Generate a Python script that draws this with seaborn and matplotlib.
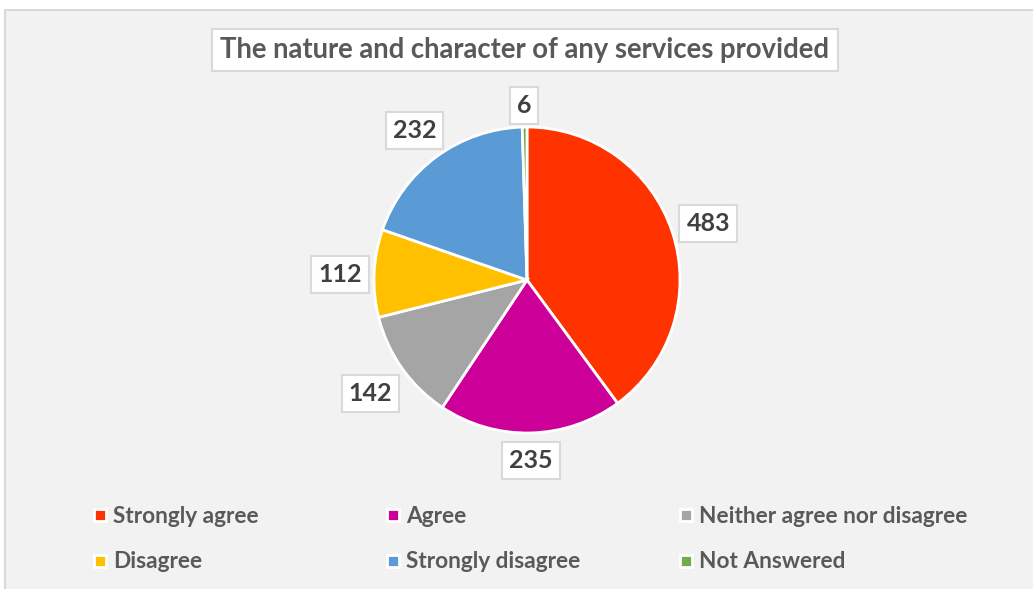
import matplotlib
matplotlib.use("Agg")
import matplotlib.pyplot as plt
from matplotlib.patches import Rectangle
from matplotlib.lines import Line2D
import numpy as np
import seaborn as sns

# Survey responses
categories = ["Strongly agree", "Agree", "Neither agree nor disagree",
              "Disagree", "Strongly disagree", "Not Answered"]
counts = [483, 235, 142, 112, 232, 6]
slice_colors = ["#FF3300", "#CC0099", "#A5A5A5", "#FFC000", "#5B9BD5", "#70AD47"]
title = "The nature and character of any services provided"

sns.set_theme(style="white")
plt.rcParams["font.family"] = ["Lato", "DejaVu Sans"]
plt.rcParams["font.weight"] = "bold"
palette = sns.color_palette(slice_colors)

W, H = 1033, 589
fig = plt.figure(figsize=(W / 100, H / 100), dpi=100, facecolor="white")

# light grey chart panel behind everything
fig.patches.append(Rectangle((5 / W, -0.02), 1.0, (H - 10) / H + 0.02,
                             transform=fig.transFigure, facecolor="#F2F2F2",
                             edgecolor="#D9D9D9", linewidth=1.5, zorder=-10))

# pie axes: centre (527, 280) px from top-left, radius 153 px
cx, cy, R, half = 527, 280, 153, 1.3
ext = R * half
ax = fig.add_axes([(cx - ext) / W, (H - cy - ext) / H, 2 * ext / W, 2 * ext / H])
ax.set_zorder(1)
ax.patch.set_visible(False)
wedges, _ = ax.pie(counts, colors=palette, startangle=90, counterclock=False,
                   wedgeprops=dict(edgecolor="white", linewidth=2))
ax.set_xlim(-half, half)
ax.set_ylim(-half, half)
ax.set_aspect("equal")
ax.axis("off")

# value labels in boxes just outside each slice
label_fs = 18
gap_px = 6
for w, v in zip(wedges, counts):
    th = np.deg2rad((w.theta1 + w.theta2) / 2)
    txt = str(v)
    half_w = 8 + 6.5 * len(txt)
    half_h = 18
    d_px = R + gap_px + abs(np.cos(th)) * half_w + abs(np.sin(th)) * half_h
    d = d_px / R
    ax.text(d * np.cos(th), d * np.sin(th) - 0.02, txt, ha="center", va="center",
            fontsize=label_fs, fontweight="bold", color="#404040",
            bbox=dict(boxstyle="square,pad=0.28", facecolor="white",
                      edgecolor="#D9D9D9", linewidth=1.5))

# title box
fig.text(525 / W, 1 - 50 / H, title, ha="center", va="center", fontsize=19.8,
         fontweight="bold", color="#595959",
         bbox=dict(boxstyle="square,pad=0.3", facecolor="white",
                   edgecolor="#D9D9D9", linewidth=1.5))

# legend: three equal-width columns, two rows
col_left = [93, 386, 679]
ncols = 3
for c in range(ncols):
    idx = [c, c + ncols]
    handles = [Line2D([], [], marker="s", linestyle="", markersize=8,
                      markerfacecolor=palette[i], markeredgecolor="white",
                      markeredgewidth=2) for i in idx]
    leg = fig.legend(handles, [categories[i] for i in idx], loc="upper left",
                     bbox_to_anchor=(col_left[c] / W, 1 - 506 / H),
                     frameon=False, fontsize=16.3, handlelength=0.6,
                     handletextpad=0.3, labelspacing=1.08, borderpad=0,
                     borderaxespad=0)
    for t in leg.get_texts():
        t.set_color("#595959")
        t.set_fontweight("bold")

fig.savefig("out.png", dpi=100, facecolor="white")
